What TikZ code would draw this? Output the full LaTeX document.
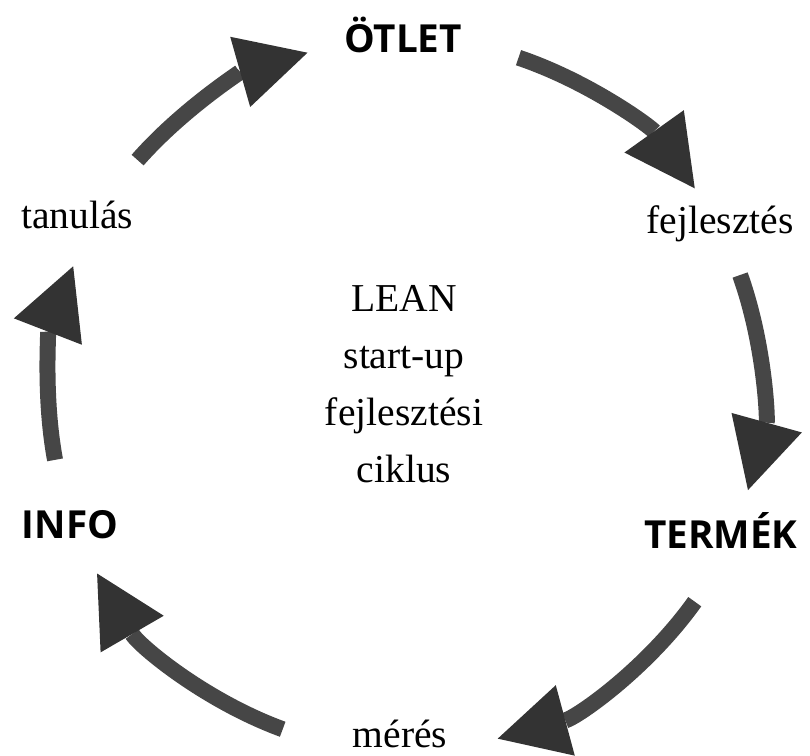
\documentclass[tikz,border=0pt]{standalone}
\usepackage{fontspec}
\setmainfont{Liberation Serif}
\setsansfont{Open Sans}
\usetikzlibrary{arrows.meta}
\definecolor{shaftgray}{HTML}{464646}
\definecolor{headgray}{HTML}{333333}

\begin{document}
\begin{tikzpicture}[x=0.02cm, y=0.02cm,
	steplabel/.style={font=\fontsize{22.5}{32.3}\selectfont, inner sep=0pt, anchor=base},
	stagelabel/.style={font=\sffamily\bfseries\fontsize{22}{26}\selectfont, inner sep=0pt, anchor=base},
	cyclearrow/.style={draw=shaftgray, line width=0.32cm, -{Triangle[width=1.46cm, length=1.4cm, line width=0pt, fill=headgray]}}]
	\useasboundingbox (0,0) rectangle (810,755);
	\coordinate (c) at (405,360);
	% the four stages and two steps round the circle
	\node[stagelabel] (otlet) at (403,702) {ÖTLET};
	\node[stagelabel] (termek) at (721,207) {TERMÉK};
	\node[stagelabel] (info) at (70,217) {INFO};
	\node[steplabel] (fejl) at (720,522) {fejlesztés};
	\node[steplabel] (meres) at (400,8) {mérés};
	\node[steplabel] (tanul) at (77,527) {tanulás};
	% title in the middle (base = last line)
	\node[steplabel, align=center] (lean) at (404,273) {LEAN\\start-up\\fejlesztési\\ciklus};
	% arrows, clockwise
	\foreach \from/\to in {138.7/105.9, 71.4/35.5, 19.7/-15.5, -35.5/-74.9, -110.1/-149.9, -169.5/-201.2}
		\draw[cyclearrow] (c) ++(\from:7.12cm) arc[start angle=\from, end angle=\to, radius=7.12cm];
\end{tikzpicture}
\end{document}
